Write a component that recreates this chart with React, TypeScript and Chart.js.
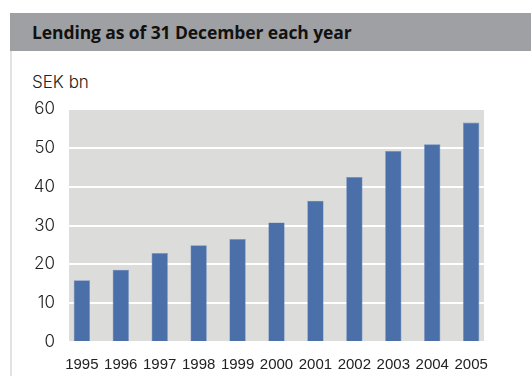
import React, { useEffect, useRef } from "react";
import { Chart, registerables } from "chart.js";

Chart.register(...registerables);

const title = "Lending as of 31 December each year";
const unitLabel = "SEK bn";
const years = ["1995", "1996", "1997", "1998", "1999", "2000", "2001", "2002", "2003", "2004", "2005"];
const lending = [15.9, 18.6, 22.9, 24.9, 26.5, 30.8, 36.4, 42.5, 49.2, 50.9, 56.5];
const yTicks = [0, 10, 20, 30, 40, 50, 60];

const plotBg = {
  id: "plotBg",
  beforeDraw(chart: any) {
    const { ctx, chartArea } = chart;
    ctx.save();
    ctx.fillStyle = "#dcdddb";
    ctx.fillRect(chartArea.left, chartArea.top, chartArea.right - chartArea.left, chartArea.bottom - chartArea.top);
    ctx.restore();
  },
};

export default function App() {
  const ref = useRef<HTMLCanvasElement | null>(null);
  useEffect(() => {
    if (!ref.current) return;
    const chart = new Chart(ref.current, {
      type: "bar",
      data: {
        datasets: [
          {
            data: lending.map((v, i) => ({ x: i, y: v })),
            backgroundColor: "#4b6fa9",
            borderColor: "#7690c0",
            borderWidth: 0.6,
            categoryPercentage: 1,
            barPercentage: 0.42,
          },
        ],
      },
      options: {
        animation: false,
        responsive: false,
        maintainAspectRatio: false,
        layout: { padding: { left: 20, right: 47, top: 109, bottom: 0 } },
        plugins: { legend: { display: false }, tooltip: { enabled: false } },
        scales: {
          x: {
            type: "linear",
            offset: false,
            min: -0.33,
            max: years.length - 1 + 0.33,
            grid: { display: false, offset: false },
            border: { display: false },
            afterFit: (s: any) => {
              s.height = 34;
            },
            ticks: {
              stepSize: 1,
              includeBounds: false,
              autoSkip: false,
              maxRotation: 0,
              padding: 6,
              color: "#222",
              font: { family: "Liberation Sans", size: 15 },
              callback: (v: any) => (Number.isInteger(v) && years[v] !== undefined ? years[v] : ""),
            },
          },
          y: {
            min: yTicks[0],
            max: yTicks[yTicks.length - 1],
            grid: { color: "#ffffff", lineWidth: 2, drawTicks: false },
            border: { display: false },
            afterFit: (s: any) => {
              s.width = 49;
            },
            afterBuildTicks: (s: any) => {
              s.ticks = yTicks.map((v) => ({ value: v }));
            },
            ticks: {
              padding: 14,
              color: "#222",
              font: { family: "Inter", size: 17, weight: 300 },
            },
          },
        },
      },
      plugins: [plotBg],
    });
    return () => chart.destroy();
  }, []);

  return (
    <div style={{ position: "fixed", left: 0, top: 0, width: 531, height: 376, background: "#fff", overflow: "hidden" }}>
      <div
        style={{
          position: "absolute",
          left: 10,
          top: 13,
          width: 521,
          height: 38,
          background: "#9fa0a3",
        }}
      />
      <div
        style={{
          position: "absolute",
          left: 32,
          top: 20,
          fontFamily: "Open Sans",
          fontWeight: 700,
          fontSize: 17.5,
          letterSpacing: -0.1,
          color: "#111",
          whiteSpace: "nowrap",
          lineHeight: "24px",
        }}
      >
        {title}
      </div>
      <div style={{ position: "absolute", left: 10, top: 51, width: 2, height: 325, background: "#e2e2e2" }} />
      <div
        style={{
          position: "absolute",
          left: 32,
          top: 72,
          fontFamily: "Inter",
          fontWeight: 300,
          fontSize: 17,
          color: "#222",
          whiteSpace: "nowrap",
          lineHeight: "20px",
        }}
      >
        {unitLabel}
      </div>
      <canvas ref={ref} width={531} height={376} style={{ position: "absolute", left: 0, top: 0, width: 531, height: 376 }} />
    </div>
  );
}
